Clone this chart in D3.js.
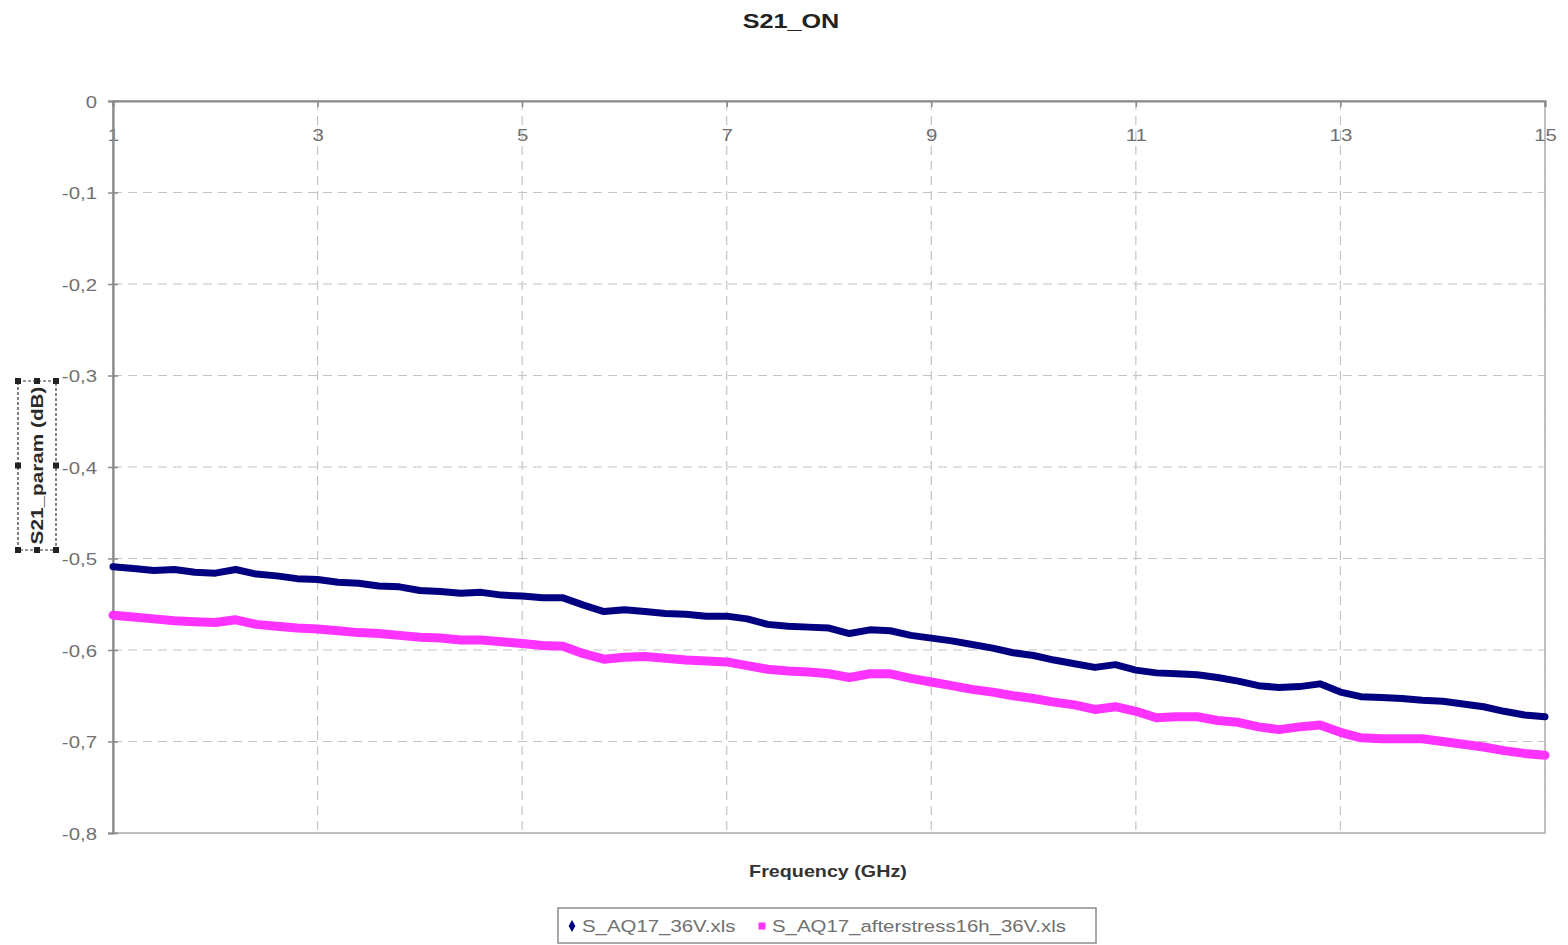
<!DOCTYPE html>
<html>
<head>
<meta charset="utf-8">
<script src="https://cdn.jsdelivr.net/npm/d3@7"></script>
<style>
  html, body { margin: 0; padding: 0; background: #ffffff; }
  svg { display: block; }
  text { font-family: "Liberation Sans", Arial, sans-serif; }
</style>
</head>
<body>
<svg id="chart" width="1568" height="945"></svg>
<script>
// Measurement sweep: S21 in the ON state, before and after 16 h stress
const frequencyGHz = [
  1.0, 1.2, 1.4, 1.6, 1.8, 2.0, 2.2, 2.4, 2.6, 2.8,
  3.0, 3.2, 3.4, 3.6, 3.8, 4.0, 4.2, 4.4, 4.6, 4.8,
  5.0, 5.2, 5.4, 5.6, 5.8, 6.0, 6.2, 6.4, 6.6, 6.8,
  7.0, 7.2, 7.4, 7.6, 7.8, 8.0, 8.2, 8.4, 8.6, 8.8,
  9.0, 9.2, 9.4, 9.6, 9.8, 10.0, 10.2, 10.4, 10.6, 10.8,
  11.0, 11.2, 11.4, 11.6, 11.8, 12.0, 12.2, 12.4, 12.6, 12.8,
  13.0, 13.2, 13.4, 13.6, 13.8, 14.0, 14.2, 14.4, 14.6, 14.8,
  15.0
];

const s21Initial = [
  -0.509, -0.511, -0.513, -0.512, -0.515, -0.516, -0.512, -0.517, -0.519, -0.522,
  -0.523, -0.526, -0.527, -0.530, -0.531, -0.535, -0.536, -0.538, -0.537, -0.540,
  -0.541, -0.543, -0.543, -0.551, -0.558, -0.556, -0.558, -0.560, -0.561, -0.563,
  -0.563, -0.566, -0.572, -0.574, -0.575, -0.576, -0.582, -0.578, -0.579, -0.584,
  -0.587, -0.590, -0.594, -0.598, -0.603, -0.606, -0.611, -0.615, -0.619, -0.616,
  -0.622, -0.625, -0.626, -0.627, -0.630, -0.634, -0.639, -0.641, -0.640, -0.637,
  -0.646, -0.651, -0.652, -0.653, -0.655, -0.656, -0.659, -0.662, -0.667, -0.671,
  -0.673
];

const s21AfterStress = [
  -0.562, -0.564, -0.566, -0.568, -0.569, -0.570, -0.567, -0.572, -0.574, -0.576,
  -0.577, -0.579, -0.581, -0.582, -0.584, -0.586, -0.587, -0.589, -0.589, -0.591,
  -0.593, -0.595, -0.596, -0.604, -0.610, -0.608, -0.607, -0.609, -0.611, -0.612,
  -0.613, -0.617, -0.621, -0.623, -0.624, -0.626, -0.630, -0.626, -0.626, -0.631,
  -0.635, -0.639, -0.643, -0.646, -0.650, -0.653, -0.657, -0.660, -0.665, -0.662,
  -0.667, -0.674, -0.673, -0.673, -0.677, -0.679, -0.684, -0.687, -0.684, -0.682,
  -0.690, -0.696, -0.697, -0.697, -0.697, -0.700, -0.703, -0.706, -0.710, -0.713,
  -0.715
];

const seriesNames = ["S_AQ17_36V.xls", "S_AQ17_afterstress16h_36V.xls"];
const seriesColors = ["#000080", "#ff33ff"];
const xTickValues = [1, 3, 5, 7, 9, 11, 13, 15];
const yTickValues = [0, -0.1, -0.2, -0.3, -0.4, -0.5, -0.6, -0.7, -0.8];

const chartTitle = "S21_ON";
const xTitle = "Frequency (GHz)";
const yTitle = "S21_param (dB)";

// Layout
const plot = { left: 113, right: 1545, top: 101, bottom: 833 };
const SX = 1.2;          // horizontal stretch applied to the lettering
const labelColor = "#707070";
const gridColor = "#c4c4c4";
const axisColor = "#8a8a8a";

const svg = d3.select("#chart");

const x = d3.scaleLinear().domain([1, 15]).range([plot.left, plot.right]);
const y = d3.scaleLinear().domain([0, -0.8]).range([plot.top, plot.bottom]);

// Plot frame
svg.append("rect")
  .attr("x", plot.left).attr("y", plot.top)
  .attr("width", plot.right - plot.left).attr("height", plot.bottom - plot.top)
  .attr("fill", "#ffffff").attr("stroke", "#a8a8a8").attr("stroke-width", 1.5);

// Dashed grid
svg.append("g")
  .selectAll("line")
  .data(yTickValues.filter(v => v < 0 && v > -0.8))
  .join("line")
  .attr("x1", plot.left).attr("x2", plot.right)
  .attr("y1", d => y(d)).attr("y2", d => y(d))
  .attr("stroke", gridColor).attr("stroke-width", 1.2)
  .attr("stroke-dasharray", "9,6");

svg.append("g")
  .selectAll("line")
  .data(xTickValues.filter(v => v > 1))
  .join("line")
  .attr("x1", d => x(d)).attr("x2", d => x(d))
  .attr("y1", plot.top).attr("y2", plot.bottom)
  .attr("stroke", gridColor).attr("stroke-width", 1.2)
  .attr("stroke-dasharray", "9,6");

// Axes: the frequency axis runs along the 0 dB line at the top
const yFormat = v => (Math.abs(v) < 1e-9 ? "0" : v.toFixed(1).replace(".", ","));

const xAxis = svg.append("g")
  .attr("transform", `translate(0,${y(0)})`)
  .call(d3.axisBottom(x).tickValues(xTickValues).tickSize(6).tickPadding(24).tickFormat(d3.format("d")));

const yAxis = svg.append("g")
  .attr("transform", `translate(${x(1)},0)`)
  .call(d3.axisLeft(y).tickValues(yTickValues).tickSize(5).tickPadding(11).tickFormat(yFormat));

[xAxis, yAxis].forEach(ax => {
  ax.select(".domain").attr("stroke", axisColor).attr("stroke-width", 2.2);
  ax.selectAll(".tick line").attr("stroke", axisColor).attr("stroke-width", 1.5);
  ax.selectAll(".tick text")
    .attr("fill", labelColor)
    .style("font-size", "17px");
});

xAxis.selectAll(".tick text")
  .attr("y", 0).attr("dy", 0)
  .attr("transform", `translate(0,40) scale(${SX},1)`);

yAxis.selectAll(".tick line").attr("x2", 5).attr("x1", -5);
yAxis.selectAll(".tick text")
  .attr("x", 0).attr("dy", 0)
  .attr("transform", `translate(-16,6) scale(${SX},1)`);

// Series traces
const line = d3.line()
  .x(d => x(d[0]))
  .y(d => y(d[1]));

const seriesData = [s21Initial, s21AfterStress].map(vals => frequencyGHz.map((f, i) => [f, vals[i]]));
const seriesWidths = [7, 9];

svg.append("g")
  .selectAll("path")
  .data(seriesData)
  .join("path")
  .attr("d", line)
  .attr("fill", "none")
  .attr("stroke", (d, i) => seriesColors[i])
  .attr("stroke-width", (d, i) => seriesWidths[i])
  .attr("stroke-linejoin", "round")
  .attr("stroke-linecap", "round");

// Title
svg.append("text")
  .attr("transform", `translate(791,28) scale(${SX},1)`)
  .attr("text-anchor", "middle")
  .attr("font-weight", "bold")
  .style("font-size", "21px")
  .attr("fill", "#222")
  .text(chartTitle);

// X axis title
svg.append("text")
  .attr("transform", `translate(828,877) scale(1.16,1)`)
  .attr("text-anchor", "middle")
  .attr("font-weight", "bold")
  .style("font-size", "17px")
  .attr("fill", "#333")
  .text(xTitle);

// Y axis title inside its selection frame
const yBox = { x0: 18, x1: 56, y0: 381, y1: 550 };
const yt = svg.append("g");
yt.append("rect")
  .attr("x", yBox.x0).attr("y", yBox.y0)
  .attr("width", yBox.x1 - yBox.x0).attr("height", yBox.y1 - yBox.y0)
  .attr("fill", "none").attr("stroke", "#333").attr("stroke-width", 1.2)
  .attr("stroke-dasharray", "3,2");
yt.append("text")
  .attr("transform", `translate(${(yBox.x0 + yBox.x1) / 2 + 6},${(yBox.y0 + yBox.y1) / 2}) rotate(-90) scale(1.22,1)`)
  .attr("text-anchor", "middle")
  .attr("font-weight", "bold")
  .style("font-size", "17px")
  .attr("fill", "#2a2a2a")
  .text(yTitle);
const mx = (yBox.x0 + yBox.x1) / 2, my = (yBox.y0 + yBox.y1) / 2;
const handles = [
  [yBox.x0, yBox.y0], [mx, yBox.y0], [yBox.x1, yBox.y0],
  [yBox.x0, my], [yBox.x1, my],
  [yBox.x0, yBox.y1], [mx, yBox.y1], [yBox.x1, yBox.y1]
];
yt.selectAll("rect.handle")
  .data(handles)
  .join("rect")
  .attr("class", "handle")
  .attr("x", d => d[0] - 3).attr("y", d => d[1] - 3)
  .attr("width", 6).attr("height", 6)
  .attr("fill", "#222");

// Legend
const legend = svg.append("g");
legend.append("rect")
  .attr("x", 558).attr("y", 908).attr("width", 538).attr("height", 35)
  .attr("fill", "#ffffff").attr("stroke", "#8c8c8c").attr("stroke-width", 1.5);

const legendItems = [
  { mx: 572, tx: 582 },
  { mx: 762, tx: 772 }
];
legend.append("path")
  .attr("d", d3.symbol().type(d3.symbolDiamond).size(40)())
  .attr("transform", `translate(${legendItems[0].mx},926)`)
  .attr("fill", seriesColors[0]);
legend.append("rect")
  .attr("x", legendItems[1].mx - 3.5).attr("y", 922.5)
  .attr("width", 7).attr("height", 7)
  .attr("fill", seriesColors[1]);
legend.selectAll("text")
  .data(seriesNames)
  .join("text")
  .attr("transform", (d, i) => `translate(${legendItems[i].tx},932) scale(${SX},1)`)
  .style("font-size", "17px")
  .attr("fill", labelColor)
  .text(d => d);
</script>
</body>
</html>
